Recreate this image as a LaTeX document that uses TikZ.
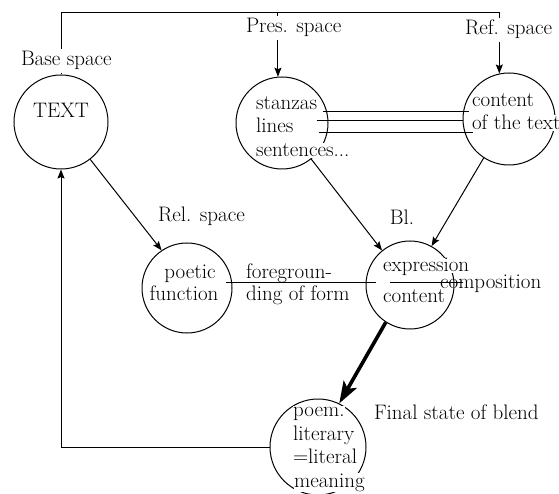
\documentclass[tikz,border=0pt]{standalone}
\usetikzlibrary{arrows.meta,calc}
\begin{document}
\begin{tikzpicture}[x=1pt,y=-1pt,
  line width=1pt,
  circ/.style={draw,circle,inner sep=0pt},
  lbl/.style={inner sep=0.6pt,font=\fontsize{21}{25}\selectfont},
  wlbl/.style={lbl,fill=white},
  gap/.style={lbl,fill=white,inner sep=2.5pt},
  arr/.style={-{Stealth[length=9pt,width=7pt,inset=1.5pt]}},
  bold/.style={line width=3.6pt,-{Stealth[length=22pt,width=15pt,inset=5pt]}}
]
\useasboundingbox (0,0) rectangle (559,494);

% circles
\node[circ,minimum size=94pt] (txt) at (61,122) {};
\node[circ,minimum size=92pt] (stz) at (282,123) {};
\node[circ,minimum size=92pt] (cnt) at (509,119) {};
\node[circ,minimum size=90pt] (poe) at (187,288) {};
\node[circ,minimum size=88pt] (exp) at (410,285) {};
\node[circ,minimum size=96pt] (fin) at (318,447) {};

\coordinate (top) at (0,13);

% top frame and arrows into the input spaces
\draw[arr] (txt.north) -- (txt.north |- top) -- (cnt.102 |- top) -- (cnt.102);
\draw[arr] (stz.95 |- top) -- (stz.95);

% other connectors
\draw[arr] (txt.-52) -- (poe.124);
\draw[arr] (stz.-51) -- (exp.129);
\draw[arr] (cnt.237) -- (exp.61);
\draw[bold] (exp.-123) -- (fin.64);
\draw[arr] (fin.west) -| (txt.south);

% space labels
\node[gap,anchor=base west] (lbase) at (18,66) {Base space};
\node[gap,anchor=base west] (lpres) at (243,33) {Pres. space};
\node[gap,anchor=base west] (lref) at (462,35) {Ref. space};
\node[lbl,anchor=base west] (lrel) at (157,222) {Rel. space};
\node[lbl,anchor=base] (lbl) at (402,225) {Bl.};
\node[lbl,anchor=base west] (lfin) at (373,419) {Final state of blend};

% circle contents
\node[lbl,anchor=base] (ttext) at (61,118) {TEXT};

\node[wlbl,anchor=base west] (s1) at (255,110) {stanzas};
\node[wlbl,anchor=base west] (s2) at (255,133) {lines};
\node[wlbl,anchor=base west] (s3) at (255,157) {sentences...};

\node[wlbl,anchor=base west] (c1) at (471,107) {content};
\node[wlbl,anchor=base west] (c2) at (471,130) {of the text};

\node[lbl,anchor=base] (p1) at (190,278) {poetic};
\node[lbl,anchor=base] (p2) at (184,300) {function};

\node[lbl,anchor=base west] (f1) at (245,278) {foregroun-};
\node[lbl,anchor=base west] (f2) at (245,300) {ding of form};

\node[wlbl,anchor=base west,text depth=0pt] (e1) at (382,272) {expression};
\node[wlbl,anchor=base west] (e2) at (382,302) {content};
\node[lbl,anchor=base west] (comp) at (439,288.5) {composition};

\node[wlbl,anchor=base west] (m1) at (292,416) {poem.};
\node[wlbl,anchor=base west] (m2) at (292,440) {literary};
\node[wlbl,anchor=base west] (m3) at (292,463) {=literal};
\node[wlbl,anchor=base west] (m4) at (293,487) {meaning};

% correspondence lines
\draw ([xshift=-6pt,yshift=11pt]stz.east) -- ([xshift=6pt,yshift=7pt]cnt.west);
\draw ([xshift=-12pt,yshift=2pt]stz.east) -- ([xshift=0pt,yshift=-2pt]cnt.west);
\draw ([xshift=-10pt,yshift=-10pt]stz.east) -- ([xshift=10pt,yshift=-14pt]cnt.west);

\draw ([xshift=-7pt,yshift=6pt]poe.east) -- ([xshift=10pt,yshift=3pt]exp.west);
\draw ([xshift=24pt,yshift=3pt]exp.west) -- ([xshift=24pt,yshift=3pt]exp.west -| comp.west);
\end{tikzpicture}
\end{document}
